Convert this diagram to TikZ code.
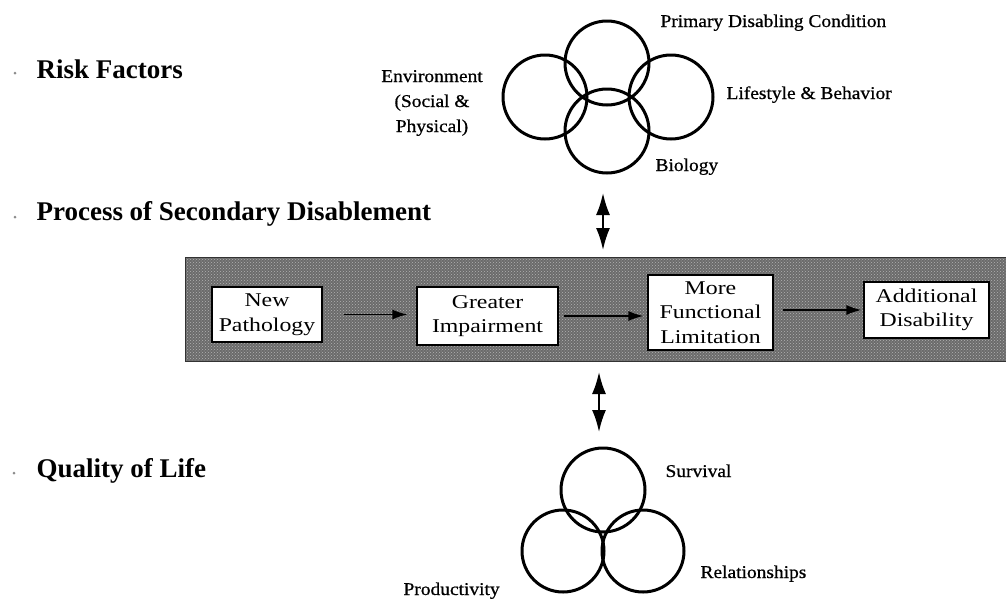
\documentclass[tikz,border=0pt]{standalone}
\usepackage{fontspec}
\setmainfont{Liberation Serif}
\newfontfamily\stagefont[FakeStretch=1.22]{Liberation Serif}
\newfontfamily\tagfont[FakeStretch=1.08,FakeBold=0.7]{Liberation Serif}
\usetikzlibrary{arrows.meta,patterns}

\begin{document}
\begin{tikzpicture}[x=1pt,y=-1pt,
  ring/.style={circle,draw,line width=3pt,minimum size=84pt,inner sep=0pt},
  heading/.style={anchor=base west,font=\fontsize{27}{30}\selectfont\bfseries},
  tag/.style={font=\tagfont\fontsize{18}{25}\selectfont,align=center},
  stage/.style={draw,fill=white,line width=1.2pt,align=center,inner sep=0pt,font=\stagefont\fontsize{19.5}{24.5}\selectfont},
  flow/.style={-{Latex[length=15pt,width=10pt]},line width=1.6pt},
  link/.style={{Latex[length=22pt,width=14pt]}-{Latex[length=22pt,width=14pt]},line width=2pt}]
		%%%%% START %%%%%
		\useasboundingbox (0,0) rectangle (1006,600);
		
		% headings on the left
		\fill[black!45] (15,73) circle (1.5);
		\node[heading] (risk) at (33,78) {Risk Factors};
		\fill[black!45] (15,217) circle (1.5);
		\node[heading] (process) at (33,220) {Process of Secondary Disablement};
		\fill[black!45] (14,473) circle (1.5);
		\node[heading] (quality) at (33,477) {Quality of Life};
		
		% risk factor rings
		\node[ring] (primary) at (607,63) {};
		\node[ring] (environ) at (545,97) {};
		\node[ring] (lifestyle) at (671,97) {};
		\node[ring] (biology) at (607,131) {};
		\node[tag,anchor=base west] (primarytag) at (657,27) {Primary Disabling Condition};
		\node[tag,anchor=base west] (lifestyletag) at (723,99) {Lifestyle \& Behavior};
		\node[tag] (environtag) at (432,103) {Environment\\(Social \&\\Physical)};
		\node[tag,anchor=base west] (biologytag) at (652,171) {Biology};
		
		% band of the disablement process
		\fill[black!58] (185,257) rectangle (1006,361);
		\fill[pattern=crosshatch dots, pattern color=black!30] (185,257) rectangle (1006,361);
		\draw[line width=1pt, color=black!80] (1006,257) -- (185,257) -- (185,361) -- (1006,361);
		
		\node[stage,minimum width=110pt,minimum height=55pt] (newpath) at (267,314.5) {New\\Pathology};
		\node[stage,minimum width=141pt,minimum height=58pt] (greater) at (487.5,316) {Greater\\Impairment};
		\node[stage,minimum width=125pt,minimum height=75pt] (limitation) at (710.5,312.5) {More\\Functional\\Limitation};
		\node[stage,minimum width=125pt,minimum height=56pt] (disability) at (926.5,310) {Additional\\Disability};
		
		\draw[flow, shorten <=21pt, shorten >=9pt] (newpath.east) -- (newpath.east -| greater.west);
		\draw[flow, shorten <=5pt, shorten >=4pt] (greater.east) -- (greater.east -| limitation.west);
		\draw[flow, shorten <=9pt, shorten >=2pt] (limitation.east |- disability.west) -- (disability.west);
		
		% links between the three parts
		\coordinate (uptop) at (603,193);
		\coordinate (upbot) at (603,250);
		\draw[link] (uptop) -- (upbot);
		\coordinate (downtop) at (599,372);
		\coordinate (downbot) at (599,432);
		\draw[link] (downtop) -- (downbot);
		
		% quality of life rings
		\node[ring] (survival) at (603,490) {};
		\node[ring,minimum size=82pt] (productivity) at (563,551) {};
		\node[ring,minimum size=82pt] (relations) at (643,551) {};
		\node[tag,anchor=base west] (survivaltag) at (662,477) {Survival};
		\node[tag,anchor=base west] (relationstag) at (697,578) {Relationships};
		\node[tag,anchor=base west] (productivitytag) at (400,595) {Productivity};
		
		%%%%% END %%%%%
\end{tikzpicture}
\end{document}
